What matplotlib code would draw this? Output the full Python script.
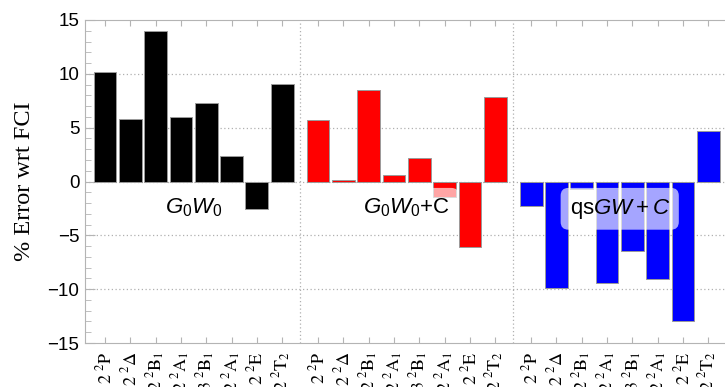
import numpy as np
import matplotlib
matplotlib.use("Agg")
import matplotlib.pyplot as plt
from matplotlib.ticker import MultipleLocator

# states, one bar each, repeated for every method
states = [r"$2\ {}^2\mathrm{P}$", r"$2\ {}^2\Delta$", r"$2\ {}^2\mathrm{B}_1$",
          r"$2\ {}^2\mathrm{A}_1$", r"$3\ {}^2\mathrm{B}_1$", r"$2\ {}^2\mathrm{A}_1$",
          r"$2\ {}^2\mathrm{E}$", r"$2\ {}^2\mathrm{T}_2$"]

methods = [r"$G_0W_0$", r"$G_0W_0$+C", r"qs$GW+C$"]
colors = ["#000000", "#ff0000", "#0000ff"]

# % error wrt FCI
g0w0 = [10.2, 5.8, 14.0, 6.0, 7.3, 2.4, -2.6, 9.1]
g0w0_c = [5.7, 0.15, 8.5, 0.6, 2.2, -1.4, -6.1, 7.85]
qsgw_c = [-2.25, -9.85, -0.7, -9.4, -6.5, -9.1, -12.95, 4.7]
errors = [g0w0, g0w0_c, qsgw_c]

plt.rcParams["mathtext.fontset"] = "custom"
plt.rcParams["mathtext.rm"] = "Liberation Sans"
plt.rcParams["mathtext.it"] = "Liberation Sans:italic"

fig = plt.figure(figsize=(7.25, 3.87), dpi=100)
ax = fig.add_axes([85 / 725, 44 / 387, 640 / 725, 323 / 387])

n = len(states)
period = n + 0.42  # extra gap between method groups
frame = "#b4b4b4"

xpos, xlab = [], []
for g, (vals, col) in enumerate(zip(errors, colors)):
    x = g * period + np.arange(n)
    ax.bar(x, vals, width=0.9, color=col, edgecolor="#9a9a9a", linewidth=0.7, zorder=2)
    xpos.extend(x)
    xlab.extend(states)
    ax.text(g * period + (n - 1) / 2, -3.0, methods[g], fontsize=16, ha="center",
            va="baseline", zorder=5, family="Liberation Sans",
            bbox=dict(boxstyle="round,pad=0.4,rounding_size=0.35", fc="white",
                      ec="none", alpha=0.65))

# dotted separators between groups
for g in range(1, len(errors)):
    ax.axvline(g * period - 0.5 - 0.21, color="#b0b0b0", ls=(0, (1, 2)), lw=0.9, zorder=1)
for yv in [-10, -5, 0, 5, 10]:
    ax.axhline(yv, color="#b0b0b0", ls=(0, (1, 2)), lw=0.9, zorder=1)

ax.set_xlim(-0.79, 24.5)
ax.set_ylim(-15, 15)
ax.set_xticks(xpos)
ax.set_xticklabels(xlab, rotation=90, fontsize=13)
for t in ax.get_xticklabels():
    t.set_math_fontfamily("stix")
ax.yaxis.set_minor_locator(MultipleLocator(1))
ax.set_yticks([-15, -10, -5, 0, 5, 10, 15])
ax.set_yticklabels(["\u221215", "\u221210", "\u22125", "0", "5", "10", "15"],
                   family="Liberation Sans", fontsize=13.5)

ax.tick_params(axis="x", direction="in", length=4, color=frame, top=True, pad=6)
ax.tick_params(axis="y", which="major", direction="in", length=7, color=frame, pad=4)
ax.tick_params(axis="y", which="minor", direction="in", length=4, color=frame)
for s in ["left", "bottom", "top"]:
    ax.spines[s].set_color(frame)
ax.spines["right"].set_visible(False)

ax.set_ylabel("% Error wrt FCI", family="Liberation Serif", fontsize=17.5, labelpad=9)

fig.savefig("out.png", dpi=100)
